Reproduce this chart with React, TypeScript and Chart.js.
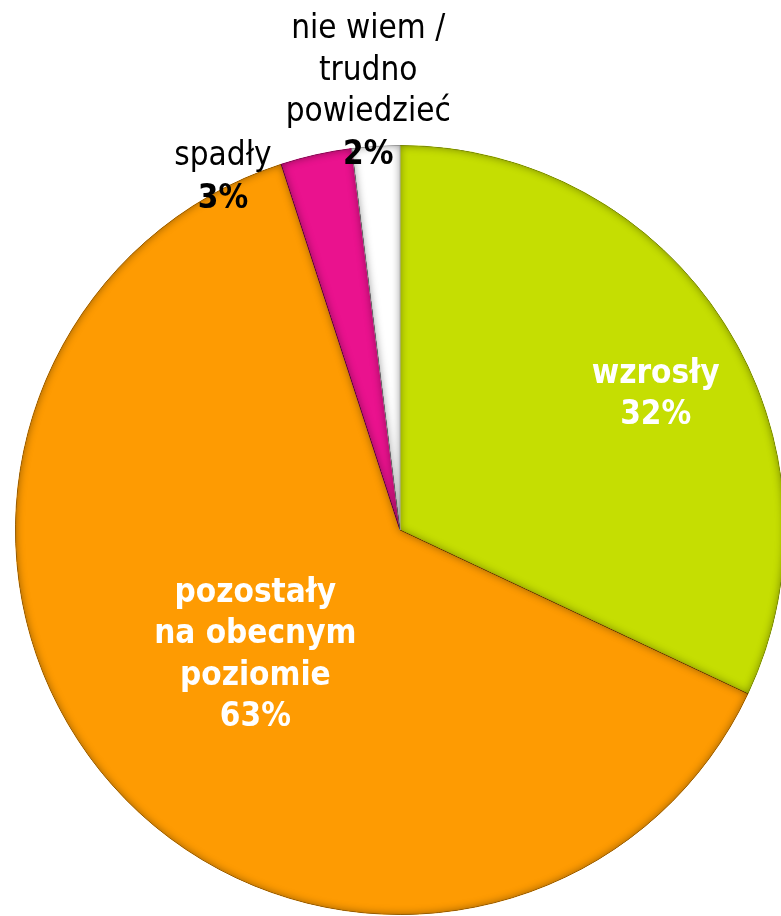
import React, { useEffect, useRef } from "react";
import { Chart, registerables } from "chart.js";

Chart.register(...registerables);

const categories = ["wzrosły", "pozostały na obecnym poziomie", "spadły", "nie wiem / trudno powiedzieć"];
const values = [32, 63, 3, 2];
const labelLines = [["wzrosły"], ["pozostały", "na obecnym", "poziomie"], ["spadły"], ["nie wiem /", "trudno", "powiedzieć"]];
const percentLabels = ["32%", "63%", "3%", "2%"];
const colors = ["#C5DE02", "#FE9B02", "#EA128E", "#FFFFFF"];
const borderColors = ["#B4CB00", "#E08800", "#C80E7A", "#DDDDDD"];

// label placement: angle offset (deg) from slice mid-angle, radius factor, style
const labelLayout = [
  { dAngle: 2.5, rf: 0.767, inside: true },
  { dAngle: 15, rf: 0.42, inside: true },
  { dAngle: -13.3, rf: 1.054, inside: false },
  { dAngle: -0.1, rf: 1.281, inside: false },
];

const FONT = "'DejaVu Sans Condensed', 'DejaVu Sans', Verdana, sans-serif";

const bevelPlugin = {
  id: "bevel",
  afterDatasetsDraw(chart: any) {
    const ctx = chart.ctx;
    const meta = chart.getDatasetMeta(0);
    meta.data.forEach((arc: any) => {
      const { x, y, startAngle, endAngle, outerRadius } = arc.getProps(
        ["x", "y", "startAngle", "endAngle", "outerRadius"],
        true
      );
      ctx.save();
      ctx.beginPath();
      ctx.moveTo(x, y);
      ctx.arc(x, y, outerRadius, startAngle, endAngle);
      ctx.closePath();
      ctx.clip();
      ctx.beginPath();
      ctx.rect(-2000, -2000, 5000, 5000);
      ctx.moveTo(x, y);
      ctx.arc(x, y, outerRadius, startAngle, endAngle);
      ctx.closePath();
      ctx.shadowColor = "rgba(0,0,0,0.4)";
      ctx.shadowBlur = 9;
      ctx.fillStyle = "rgba(0,0,0,1)";
      ctx.fill("evenodd");
      ctx.restore();
    });
  },
};

const labelPlugin = {
  id: "sliceLabels",
  afterDraw(chart: any) {
    const ctx = chart.ctx;
    const meta = chart.getDatasetMeta(0);
    meta.data.forEach((arc: any, i: number) => {
      const { x, y, startAngle, endAngle, outerRadius } = arc.getProps(
        ["x", "y", "startAngle", "endAngle", "outerRadius"],
        true
      );
      const lay = labelLayout[i];
      const mid = (startAngle + endAngle) / 2 + (lay.dAngle * Math.PI) / 180;
      const ax = x + Math.cos(mid) * outerRadius * lay.rf;
      const ay = y + Math.sin(mid) * outerRadius * lay.rf;
      ctx.save();
      ctx.textAlign = "center";
      ctx.textBaseline = "alphabetic";
      const lh = 41.5;
      const lines = labelLines[i];
      ctx.fillStyle = lay.inside ? "#FFFFFF" : "#000000";
      lines.forEach((t: string, j: number) => {
        ctx.font = (lay.inside ? "bold 33px " : "33px ") + FONT;
        ctx.fillText(t, ax, ay + j * lh);
      });
      ctx.font = "bold 33px " + FONT;
      ctx.fillText(percentLabels[i], ax, ay + lines.length * lh + (lay.inside ? 0 : 1));
      ctx.restore();
    });
  },
};

export default function App() {
  const ref = useRef<HTMLCanvasElement>(null);
  useEffect(() => {
    if (!ref.current) return;
    const chart = new Chart(ref.current, {
      type: "pie",
      data: {
        labels: categories,
        datasets: [
          {
            data: values,
            backgroundColor: colors,
            borderColor: borderColors,
            borderWidth: 1,
          },
        ],
      },
      options: {
        animation: false,
        responsive: false,
        devicePixelRatio: 1,
        layout: { padding: { left: 15, right: 15, top: 145, bottom: 1 } },
        plugins: {
          legend: { display: false },
          tooltip: { enabled: false },
        },
      },
      plugins: [bevelPlugin, labelPlugin],
    });
    return () => chart.destroy();
  }, []);
  return (
    <div
      style={{
        position: "absolute",
        left: 0,
        top: 0,
        width: 781,
        height: 916,
        overflow: "hidden",
        background: "#FFFFFF",
      }}
    >
      <canvas ref={ref} width={800} height={916} style={{ display: "block", width: 800, height: 916 }} />
    </div>
  );
}
